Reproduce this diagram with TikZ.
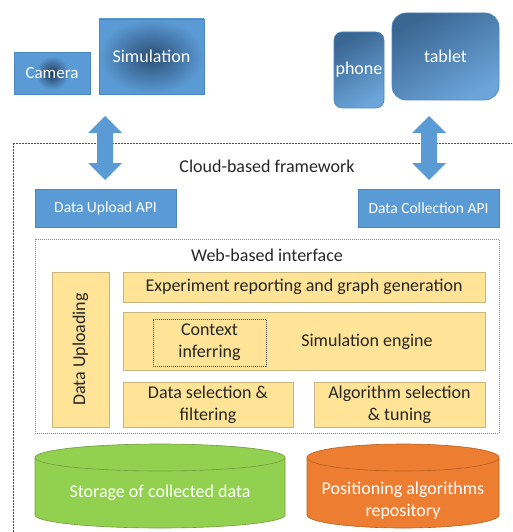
\documentclass[tikz,border=0pt]{standalone}
\usepackage{fontspec}
\setmainfont{Carlito}
\usetikzlibrary{shapes.geometric}
\definecolor{obl}{HTML}{5B9BD5}
\definecolor{oblb}{HTML}{4A86C0}
\definecolor{dkbl}{HTML}{1F3A5C}
\definecolor{ylw}{HTML}{FFE396}
\definecolor{ylwb}{HTML}{C8B57E}
\definecolor{grn}{HTML}{92D050}
\definecolor{grnb}{HTML}{6E9E3C}
\definecolor{org}{HTML}{ED7D31}
\definecolor{orgb}{HTML}{B6601F}
\definecolor{txt}{HTML}{262626}
\begin{document}
\begin{tikzpicture}[x=1pt,y=-1pt,
  bluebox/.style={fill=obl,draw=oblb,line width=0.6pt,text=white,inner sep=0pt,font=\fontsize{15.5}{18}\selectfont},
  devbox/.style={draw=oblb,line width=0.6pt,text=white,inner sep=0pt,font=\fontsize{18}{20}\selectfont,
     shading=axis,top color=dkbl!55!obl,bottom color=obl!90!white,shading angle=30},
  ybox/.style={fill=ylw,draw=ylwb,line width=0.6pt,text=txt,inner sep=0pt,align=center,font=\fontsize{18}{22}\selectfont},
  ttl/.style={text=txt,font=\fontsize{18}{22}\selectfont},
  blockarrow/.style={fill=obl,draw=none}]
\useasboundingbox (0,0) rectangle (512,532);
\begin{scope}
\clip (0,0) rectangle (512,532);
\draw[draw=black!70,line width=0.5pt,dash pattern=on 2pt off 1pt] (13,143) rectangle (530,560);
\end{scope}
% top devices
\node[bluebox,minimum width=76pt,minimum height=42pt] (cam) at (52,73) {};
\shade[inner color=dkbl,outer color=obl] (52,73) circle (17pt);
\node[text=white,font=\fontsize{17}{19}\selectfont] at (cam.center) {Camera};
\node[bluebox,minimum width=105pt,minimum height=75pt,shading=radial,inner color=dkbl!80!obl,outer color=obl,font=\fontsize{18}{20}\selectfont] (sim) at (151.5,56.5) {Simulation};
\node[devbox,rounded corners=8pt,minimum width=50pt,minimum height=76pt] (phone) at (359,70) {phone};
\node[devbox,rounded corners=14pt,minimum width=107pt,minimum height=87pt] (tablet) at (445.5,56.5) {tablet};
% block arrows
\fill[blockarrow] (105,116) -- (122,133) -- (113,133) -- (113,163) -- (122,163) -- (105,180) -- (88,163) -- (97,163) -- (97,133) -- (88,133) -- cycle;
\fill[blockarrow] (429,116) -- (446,133) -- (437,133) -- (437,163) -- (446,163) -- (429,180) -- (412,163) -- (421,163) -- (421,133) -- (412,133) -- cycle;
% cloud
\node[ttl] (cloud) at (267,166) {Cloud-based framework};
\node[bluebox,minimum width=141pt,minimum height=38pt] (uapi) at (105.5,208) {Data Upload API};
\node[bluebox,minimum width=141pt,minimum height=38pt] (capi) at (428.5,208) {Data Collection API};
% web interface
\draw[draw=obl!60!gray,line width=0.5pt,dash pattern=on 1pt off 1pt] (35,239) rectangle (499,433);
\node[ttl] (web) at (267,255) {Web-based interface};
\node[ybox,minimum width=57pt,minimum height=155pt] (dup) at (80.5,349.5) {};
\node[rotate=90,text=txt,font=\fontsize{18}{22}\selectfont] at (dup.center) {Data Uploading};
\node[ybox,minimum width=362pt,minimum height=30pt] (exp) at (304,287) {Experiment reporting and graph generation};
\node[ybox,minimum width=362pt,minimum height=58pt] (seng) at (304,341) {};
\node[text=txt,font=\fontsize{18}{22}\selectfont] at (367,342) {Simulation engine};
\node[ybox,draw=black!70,dash pattern=on 1pt off 1pt,minimum width=113pt,minimum height=47pt] (ctx) at (209.5,342.5) {Context\\inferring};
\node[ybox,minimum width=170pt,minimum height=45pt] (dsel) at (208,404.5) {Data selection \&\\filtering};
\node[ybox,minimum width=171pt,minimum height=45pt] (asel) at (399.5,404.5) {Algorithm selection\\\& tuning};
% cylinders
\filldraw[fill=grn,draw=grnb,line width=0.6pt] (35,457.5) -- (35,515) arc[start angle=180,end angle=360,x radius=125pt,y radius=13pt] -- (285,457.5);
\filldraw[fill=grn,draw=grnb,line width=0.6pt] (160,457.5) ellipse[x radius=125pt,y radius=13.5pt];
\node[text=white,font=\fontsize{18}{22}\selectfont] (store) at (160,493) {Storage of collected data};
\filldraw[fill=org,draw=orgb,line width=0.6pt] (307,457.5) -- (307,515) arc[start angle=180,end angle=360,x radius=96pt,y radius=13pt] -- (499,457.5);
\filldraw[fill=org,draw=orgb,line width=0.6pt] (403,457.5) ellipse[x radius=96pt,y radius=13.5pt];
\node[text=white,align=center,font=\fontsize{18}{22}\selectfont] (repo) at (403,501) {Positioning algorithms\\repository};
\end{tikzpicture}
\end{document}
